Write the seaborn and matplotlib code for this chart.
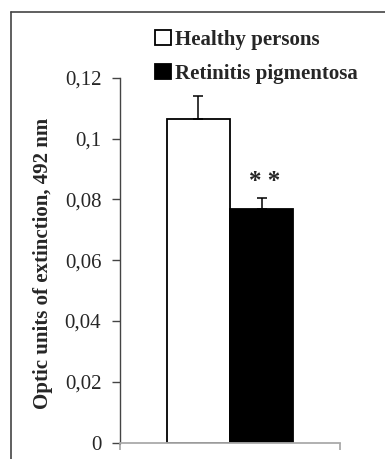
import matplotlib
matplotlib.use("Agg")
import matplotlib.pyplot as plt
import seaborn as sns
import pandas as pd
from matplotlib.lines import Line2D
from matplotlib.ticker import FixedLocator

groups = ["Healthy persons", "Retinitis pigmentosa"]
values = [0.1065, 0.0768]
errors = [0.0075, 0.0038]
colors = ["white", "black"]
yticks = [0, 0.02, 0.04, 0.06, 0.08, 0.1, 0.12]
ytick_labels = ["0", "0,02", "0,04", "0,06", "0,08", "0,1", "0,12"]
ylabel = "Optic units of extinction, 492 nm"
signif = "* *"

sns.set_style("white")
plt.rcParams["font.family"] = ["Liberation Serif", "DejaVu Serif"]

W, H = 385, 459
fig = plt.figure(figsize=(W / 100, H / 100), dpi=100)
ax = fig.add_axes([120 / W, 1 - 442.7 / H, 220 / W, (442.7 - 77.7) / H])

df = pd.DataFrame({"cat": [""] * len(groups), "group": groups, "value": values})
sns.barplot(data=df, x="cat", y="value", hue="group", palette=colors,
            width=0.573, edgecolor="black", linewidth=1.3, ax=ax,
            legend=False, errorbar=None, saturation=1)

bars = [p for p in ax.patches]
for p, v, e in zip(bars, values, errors):
    cx = p.get_x() + p.get_width() / 2
    ax.errorbar([cx], [v], yerr=[[0], [e]], fmt="none", ecolor="black",
                elinewidth=1.1, capsize=3.8, capthick=1.1, zorder=5)

# significance marker above second bar
p2 = bars[1]
ax.text(p2.get_x() + p2.get_width() / 2 + 0.015, values[1] + errors[1] + 0.0052, signif,
        ha="center", va="center", fontsize=18, fontweight="bold")

ax.set_xlim(-0.5, 0.5)
ax.set_ylim(0, 0.12)
ax.set_yticks(yticks)
ax.set_yticklabels(ytick_labels, fontsize=15)
ax.xaxis.set_major_locator(FixedLocator([-0.5, 0.5]))
ax.set_xticklabels(["", ""])
ax.set_xlabel("")
ax.set_ylabel(ylabel, fontsize=15, fontweight="bold")
ax.yaxis.set_label_coords((53 - 120) / 220, 0.49)

for s in ["top", "right"]:
    ax.spines[s].set_visible(False)
ax.spines["left"].set_color("#444444")
ax.spines["left"].set_linewidth(1.0)
ax.spines["bottom"].set_color("#aaaaaa")
ax.spines["bottom"].set_linewidth(1.3)
ax.tick_params(axis="y", direction="out", length=6, width=1, color="#444444", left=True, pad=7.5)
ax.tick_params(axis="x", direction="out", length=5, width=1.3, color="#aaaaaa", bottom=True)

handles = [plt.Rectangle((0, 0), 1, 1, facecolor=c, edgecolor="black", linewidth=1.3) for c in colors]
leg = fig.legend(handles, groups, loc="upper left", bbox_to_anchor=(155 / W, 1 - 30 / H),
                 frameon=False, prop={"weight": "bold", "size": 15},
                 handlelength=0.75, handleheight=0.75, handletextpad=0.2,
                 labelspacing=0.65, borderaxespad=0, borderpad=0)

# outer frame
fig.add_artist(Line2D([11 / W, 11 / W], [0, 1 - 12 / H], transform=fig.transFigure, color="#444444", lw=1.2))
fig.add_artist(Line2D([11 / W, 1], [1 - 12 / H, 1 - 12 / H], transform=fig.transFigure, color="#444444", lw=1.2))

fig.savefig("out.png", dpi=100)
